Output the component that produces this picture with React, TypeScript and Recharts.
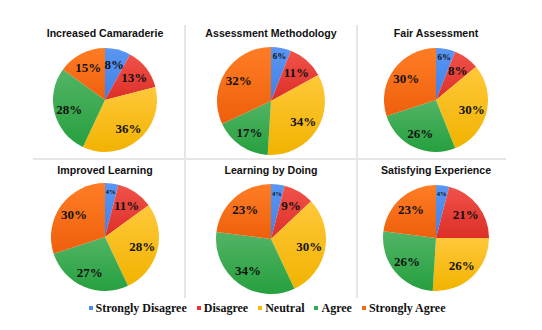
import React from 'react';
import { PieChart, Pie, Cell } from 'recharts';

const categories = ['Strongly Disagree', 'Disagree', 'Neutral', 'Agree', 'Strongly Agree'];

const titles = [
  'Increased Camaraderie',
  'Assessment Methodology',
  'Fair Assessment',
  'Improved Learning',
  'Learning by Doing',
  'Satisfying Experience',
];

const increasedCamaraderie = [8, 13, 36, 28, 15];
const assessmentMethodology = [6, 11, 34, 17, 32];
const fairAssessment = [6, 8, 30, 26, 30];
const improvedLearning = [4, 11, 28, 27, 30];
const learningByDoing = [4, 9, 30, 34, 23];
const satisfyingExperience = [4, 21, 26, 26, 23];

const seriesValues = [
  increasedCamaraderie,
  assessmentMethodology,
  fairAssessment,
  improvedLearning,
  learningByDoing,
  satisfyingExperience,
];

// top -> bottom gradient stops per category
const sliceColors = [
  ['#5a96f2', '#3f7fe8'],
  ['#f0524a', '#dc2f27'],
  ['#ffc83a', '#f1b300'],
  ['#52b465', '#26a03f'],
  ['#ff7d25', '#ee5f0c'],
];
const legendColors = ['#4a8cf0', '#e8372f', '#fbbc05', '#34a853', '#f56a12'];

// panel layout: pie centre and radius in page pixels
const layout = [
  { x: 105, y: 100, r: 52 },
  { x: 271, y: 101, r: 54 },
  { x: 436, y: 100, r: 52 },
  { x: 105, y: 237, r: 54 },
  { x: 271, y: 239, r: 55 },
  { x: 436, y: 238, r: 53 },
];

const RADIAN = Math.PI / 180;

const renderLabel = (props: any) => {
  const { cx, cy, midAngle, outerRadius, value } = props;
  // narrow slices get their label pushed out toward the rim
  const rr = outerRadius * (value <= 6 ? 0.84 : 0.71);
  const x = cx + rr * Math.cos(-midAngle * RADIAN);
  const y = cy + rr * Math.sin(-midAngle * RADIAN);
  const size = value <= 4 ? 6.5 : value <= 6 ? 9 : 13;
  return (
    <text
      x={x}
      y={y}
      textAnchor="middle"
      dominantBaseline="central"
      fill="#111"
      fontFamily="'Liberation Serif', 'Times New Roman', serif"
      fontWeight="bold"
      fontSize={size}
    >
      {`${value}%`}
    </text>
  );
};

const PiePanel = ({ idx }: { idx: number }) => {
  const { x, y, r } = layout[idx];
  const w = 2 * r + 20;
  const data = categories.map((name, i) => ({ name, value: seriesValues[idx][i] }));
  return (
    <div style={{ position: 'absolute', left: x - w / 2, top: y - w / 2, width: w, height: w }}>
      <PieChart width={w} height={w} margin={{ top: 0, right: 0, bottom: 0, left: 0 }}>
        <defs>
          {sliceColors.map((c, i) => (
            <linearGradient key={i} id={`g${idx}-${i}`} x1="0" y1="0" x2="0" y2="1">
              <stop offset="0%" stopColor={c[0]} />
              <stop offset="100%" stopColor={c[1]} />
            </linearGradient>
          ))}
        </defs>
        <Pie
          data={data}
          dataKey="value"
          cx={w / 2}
          cy={w / 2}
          outerRadius={r}
          startAngle={90}
          endAngle={-270}
          stroke="none"
          label={renderLabel}
          labelLine={false}
          isAnimationActive={false}
        >
          {data.map((d, i) => (
            <Cell key={d.name} fill={`url(#g${idx}-${i})`} />
          ))}
        </Pie>
      </PieChart>
    </div>
  );
};

const titleY = [33, 33, 33, 170, 170, 170];

const App = () => {
  return (
    <div style={{ position: 'absolute', left: 0, top: 0, width: 542, height: 330, background: '#fff', overflow: 'hidden' }}>
      {/* panel dividers */}
      <div style={{ position: 'absolute', left: 184, top: 25, width: 2, height: 273, background: '#e6e6e6' }} />
      <div style={{ position: 'absolute', left: 356, top: 25, width: 2, height: 273, background: '#e6e6e6' }} />
      <div style={{ position: 'absolute', left: 33, top: 158, width: 473, height: 2, background: '#e6e6e6' }} />

      {titles.map((t, i) => (
        <div
          key={t}
          style={{
            position: 'absolute',
            left: layout[i].x - 80,
            top: titleY[i] - 8,
            width: 160,
            textAlign: 'center',
            fontFamily: "'Liberation Sans', Arial, sans-serif",
            fontWeight: 'bold',
            fontSize: 10.6,
            lineHeight: '16px',
            color: '#111',
          }}
        >
          {t}
        </div>
      ))}

      {seriesValues.map((_, i) => (
        <PiePanel key={i} idx={i} />
      ))}

      <div
        style={{
          position: 'absolute',
          left: 0,
          top: 300,
          width: 534,
          display: 'flex',
          justifyContent: 'center',
          alignItems: 'center',
          fontFamily: "'Liberation Serif', 'Times New Roman', serif",
          fontWeight: 'bold',
          fontSize: 12,
          lineHeight: '16px',
          color: '#111',
        }}
      >
        {categories.map((c, i) => (
          <div key={c} style={{ display: 'flex', alignItems: 'center', marginRight: i < categories.length - 1 ? 10 : 0 }}>
            <span style={{ width: 4, height: 4, background: legendColors[i], marginRight: 3, display: 'inline-block' }} />
            <span>{c}</span>
          </div>
        ))}
      </div>
    </div>
  );
};

export default App;
